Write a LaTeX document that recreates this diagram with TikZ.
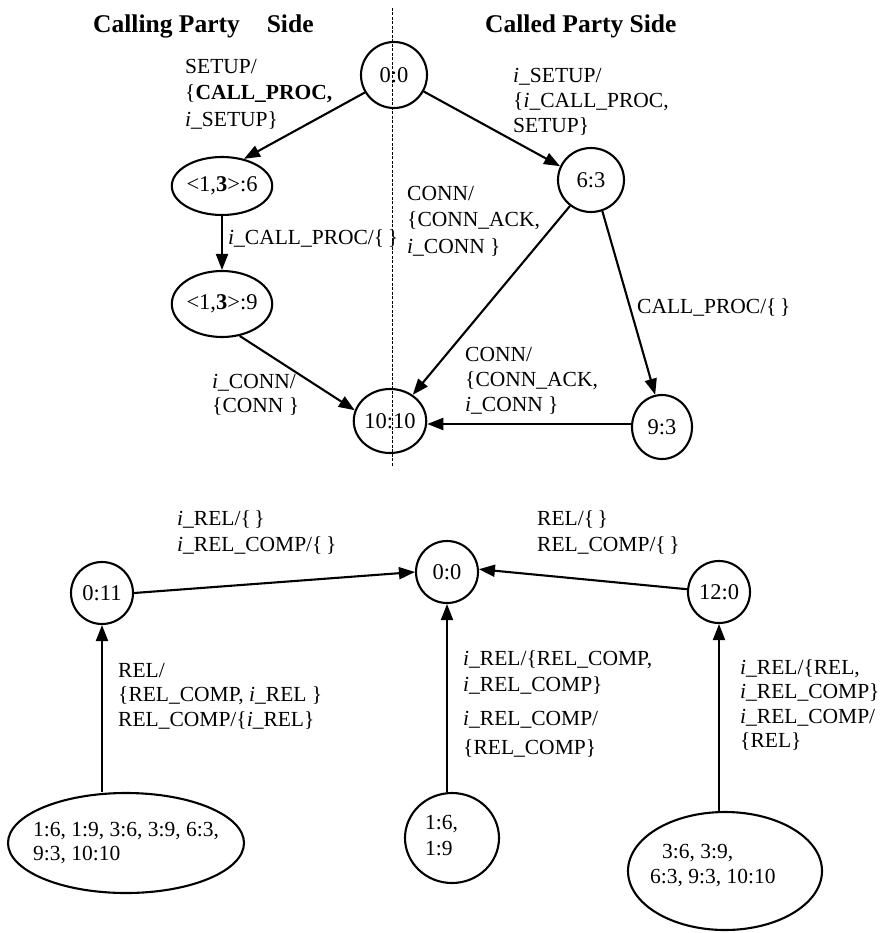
\documentclass[tikz,border=0pt]{standalone}
\usepackage{fontspec}
\setmainfont{Liberation Serif}
\usetikzlibrary{arrows.meta,shapes.geometric}
\newcommand{\ii}{\textit{i}\_}
\begin{document}
\begin{tikzpicture}[x=1pt,y=-1pt,
  st/.style={draw, ellipse, line width=2.1pt, inner sep=0pt, font=\fontsize{22.5}{25}\selectfont},
  lbl/.style={anchor=north west, inner sep=0pt, align=left, font=\fontsize{21.5}{25}\selectfont},
  tr/.style={line width=2.1pt, -{Triangle[length=16pt,width=12pt]}},
  ttl/.style={anchor=base west, inner sep=0pt, font=\fontsize{25.5}{30}\selectfont\bfseries},
  divider/.style={line width=0.7pt, dash pattern=on 3pt off 1.5pt}]
\useasboundingbox (0,0) rectangle (882,933);

% titles
\node[ttl] (t1) at (93,33) {Calling Party\hspace{27pt}Side};
\node[ttl] (t2) at (485,33) {Called Party Side};

% divider
\coordinate (dtop) at (392,8);
\coordinate (dbot) at (392,467);
\draw[divider] (dtop) -- (dbot);

% upper states
\node[st, minimum width=66pt, minimum height=66pt] (n00) at (394,75) {0:0};
\node[st, minimum width=98pt, minimum height=58pt] (n136) at (222,186) {<1,\textbf{3}>:6};
\node[st, minimum width=96pt, minimum height=66pt] (n139) at (222,304) {<1,\textbf{3}>:9};
\node[st, minimum width=66pt, minimum height=64pt] (n63) at (591,180) {6:3};
\node[st, minimum width=64pt, minimum height=64pt] (n1010) at (390,421) {10:10};
\node[st, minimum width=60pt, minimum height=64pt] (n93) at (662,427) {9:3};

\draw[tr] (n00.211) -- (n136.51);
\draw[tr] (n00.-29) -- (n63.156);
\draw[tr] (n136.south) -- (n139.north);
\draw[tr] (n139.-61) -- (n1010.163);
\draw[tr] (n63.-129) -- (n1010.49);
\draw[tr] (n63.-70) -- (n93.102);
\draw[tr] (n93.west |- 0,424) -- (n1010.east |- 0,424);

% upper labels
\node[lbl, font=\fontsize{21.5}{26.5}\selectfont] (l1) at (185,59) {SETUP/\\\{\textbf{CALL\_PROC,}\\\ii SETUP\}};
\node[lbl, font=\fontsize{21.5}{25}\selectfont] (l2) at (513,68) {\ii SETUP/\\\{\ii CALL\_PROC,\\SETUP\}};
\node[lbl] (l3) at (228,229) {\ii CALL\_PROC/\{\,\}};
\node[lbl, font=\fontsize{21.5}{26.5}\selectfont] (l4) at (407,186) {CONN/\\\{CONN\_ACK,\\\ii CONN \}};
\node[lbl] (l5) at (637,298) {CALL\_PROC/\{\,\}};
\node[lbl, font=\fontsize{21.5}{24}\selectfont] (l6) at (212,374) {\ii CONN/\\\{CONN \}};
\node[lbl, font=\fontsize{21.5}{25}\selectfont] (l7) at (465,347) {CONN/\\\{CONN\_ACK,\\\ii CONN \}};

% lower states
\node[st, minimum width=62pt, minimum height=62pt] (m0) at (102,593) {0:11};
\node[st, minimum width=62pt, minimum height=62pt] (m00) at (447,572) {0:0};
\node[st, minimum width=62pt, minimum height=62pt] (m12) at (719,592) {12:0};
\node[st, minimum width=236pt, minimum height=100pt] (e1) at (126,843) {};
\node[st, minimum width=94pt, minimum height=90pt] (e2) at (452,838) {};
\node[st, minimum width=194pt, minimum height=118pt] (e3) at (725,871) {};

\node[lbl, font=\fontsize{21.5}{24}\selectfont] (x1) at (33,822) {1:6, 1:9, 3:6, 3:9, 6:3,\\9:3, 10:10};
\node[lbl, font=\fontsize{21.5}{26}\selectfont] (x2) at (425,815) {1:6,\\1:9};
\node[lbl, font=\fontsize{21.5}{25}\selectfont] (x3) at (650,844) {\hspace*{12pt}3:6, 3:9,\\6:3, 9:3, 10:10};

\draw[tr] (m0.east) -- (m00.west);
\draw[tr] (m12.175) -- (m00.5);
\draw[tr] (m0.south |- e1.north) -- (m0.south);
\draw[tr] (m00.south |- e2.north) -- (m00.south);
\draw[tr] (m12.south |- e3.north) -- (m12.south);

% lower labels
\node[lbl, font=\fontsize{21.5}{26}\selectfont] (k1) at (177,510) {\ii REL/\{\,\}\\\ii REL\_COMP/\{\,\}};
\node[lbl, font=\fontsize{21.5}{26}\selectfont] (k2) at (537,510) {REL/\{\,\}\\REL\_COMP/\{\,\}};
\node[lbl, font=\fontsize{21.5}{24.5}\selectfont] (k3) at (118,663) {REL/\\\{REL\_COMP, \ii REL \}\\REL\_COMP/\{\ii REL\}};
\node[lbl, font=\fontsize{21.5}{26}\selectfont] (k4) at (463,650) {\ii REL/\{REL\_COMP,\\\ii REL\_COMP\}};
\node[lbl, font=\fontsize{21.5}{29}\selectfont] (k5) at (463,711) {\ii REL\_COMP/\\\{REL\_COMP\}};
\node[lbl, font=\fontsize{21.5}{24.5}\selectfont] (k6) at (740,659) {\ii REL/\{REL,\\\ii REL\_COMP\}\\\ii REL\_COMP/\\\{REL\}};
\end{tikzpicture}
\end{document}
